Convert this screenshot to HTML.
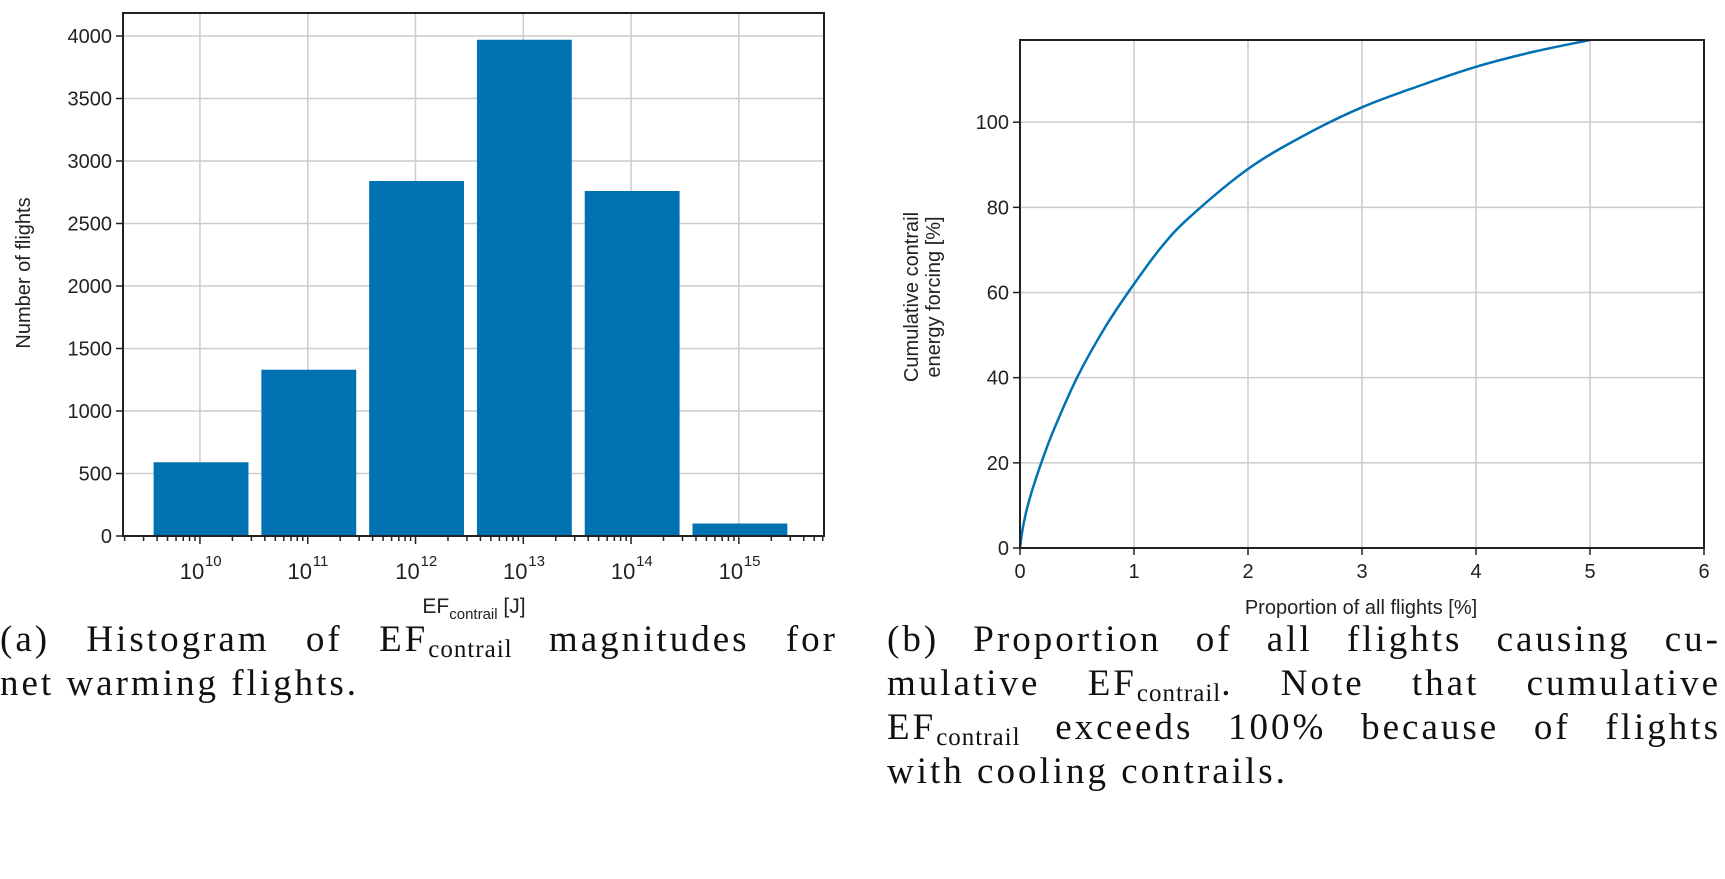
<!DOCTYPE html>
<html><head><meta charset="utf-8"><style>
body{margin:0;background:#fff;width:1725px;height:879px;overflow:hidden;position:relative}
svg{position:absolute;left:0;top:0}
.cap{position:absolute;font-family:"Liberation Serif",serif;font-size:37px;letter-spacing:3px;color:#111}
.ln{height:44px;line-height:44px;white-space:nowrap;text-align:justify;text-align-last:justify}
.ln.last{text-align-last:left}
.cap sub{font-size:25px;letter-spacing:1px;line-height:0;vertical-align:-6px}
</style></head><body>
<svg id="chart" width="1725" height="879" font-family="Liberation Sans, sans-serif"></svg>
<div class="cap" style="left:0;top:618px;width:838px">
<div class="ln">(a) Histogram of EF<sub>contrail</sub> magnitudes for</div>
<div class="ln last">net warming flights.</div></div>
<div class="cap" style="left:887px;top:618px;width:834px">
<div class="ln">(b) Proportion of all flights causing cu-</div>
<div class="ln">mulative EF<sub>contrail</sub>. Note that cumulative</div>
<div class="ln">EF<sub>contrail</sub> exceeds 100% because of flights</div>
<div class="ln last">with cooling contrails.</div></div>
<script>
const histExponents=[10,11,12,13,14,15];
const histCounts=[590,1330,2840,3970,2760,100];
const histYTicks=[0,500,1000,1500,2000,2500,3000,3500,4000];
const cumX=[0,0.02,0.05,0.1,0.2,0.3,0.5,0.75,1,1.25,1.5,2,2.5,3,3.5,4,4.5,5];
const cumY=[0,4,8,13,21,28,40,52,62,71,78,89,97,103.5,108.5,113,116.5,119.3];
const cumXTicks=[0,1,2,3,4,5,6];
const cumYTicks=[0,20,40,60,80,100];
const svg=document.getElementById('chart');const NS='http://www.w3.org/2000/svg';
function mk(t,a,p){const e=document.createElementNS(NS,t);for(const k in a)e.setAttribute(k,a[k]);(p||svg).appendChild(e);return e;}
// left chart
const L={x0:123,x1:824,y0:536,y1:13,lmin:9.286,lmax:15.79,ymax:4184};
const lx=v=>L.x0+(v-L.lmin)/(L.lmax-L.lmin)*(L.x1-L.x0);
const ly=v=>L.y0-v/L.ymax*(L.y0-L.y1);
const gA=mk('g',{});
histYTicks.forEach(t=>{const y=ly(t);
 mk('line',{x1:L.x0,x2:L.x1,y1:y,y2:y,stroke:'#ccc','stroke-width':1.5},gA);
 mk('line',{x1:L.x0-7,x2:L.x0,y1:y,y2:y,stroke:'#222','stroke-width':1.5},gA);
 const tx=mk('text',{x:L.x0-11,y:y+7,'text-anchor':'end','font-size':20,fill:'#222'},gA);tx.textContent=t;
 });
histExponents.forEach(e=>{const x=lx(e);mk('line',{x1:x,x2:x,y1:L.y1,y2:L.y0,stroke:'#ccc','stroke-width':1.5},gA);});
histExponents.forEach((e,i)=>{const a=lx(e-0.43),b=lx(e+0.45);
 const r=mk('rect',{x:a,y:ly(histCounts[i]),width:b-a,height:L.y0-ly(histCounts[i]),fill:'#0072b2'},gA);
 });
for(let d=9;d<=15;d++){for(let m=1;m<10;m++){const v=d+Math.log10(m);if(v<L.lmin||v>L.lmax)continue;const x=lx(v);
 mk('line',{x1:x,x2:x,y1:L.y0,y2:L.y0+(m==1?8:5),stroke:'#222','stroke-width':1.5},gA);}}
histExponents.forEach(e=>{const x=lx(e);const t=mk('text',{x:x-8,y:L.y0+43,'text-anchor':'middle','font-size':22,fill:'#222'},gA);t.textContent='10';
 const s=mk('text',{x:x+5,y:L.y0+30,'font-size':15,fill:'#222'},gA);s.textContent=e;
 });
mk('rect',{x:L.x0,y:L.y1,width:L.x1-L.x0,height:L.y0-L.y1,fill:'none',stroke:'#222','stroke-width':2},gA);
let t=mk('text',{x:0,y:0,'text-anchor':'middle','font-size':20,fill:'#222',transform:'translate(30,273) rotate(-90)'},gA);t.textContent='Number of flights';

t=mk('text',{x:474,y:613,'text-anchor':'middle','font-size':21,fill:'#222'},gA);t.innerHTML='EF<tspan font-size="15" dy="6">contrail</tspan><tspan dy="-6"> [J]</tspan>';

// right chart
const R={x0:1020,x1:1704,y0:548,y1:40,xmax:6,ymax:119.3};
const rx=v=>R.x0+v/R.xmax*(R.x1-R.x0);const ry=v=>R.y0-v/R.ymax*(R.y0-R.y1);
const gB=mk('g',{});
cumYTicks.forEach(v=>{const y=ry(v);mk('line',{x1:R.x0,x2:R.x1,y1:y,y2:y,stroke:'#ccc','stroke-width':1.5},gB);
 mk('line',{x1:R.x0-7,x2:R.x0,y1:y,y2:y,stroke:'#222','stroke-width':1.5},gB);
 const q=mk('text',{x:R.x0-11,y:y+7,'text-anchor':'end','font-size':20,fill:'#222'},gB);q.textContent=v;
 });
cumXTicks.forEach(v=>{const x=rx(v);mk('line',{x1:x,x2:x,y1:R.y1,y2:R.y0,stroke:'#ccc','stroke-width':1.5},gB);
 mk('line',{x1:x,x2:x,y1:R.y0,y2:R.y0+7,stroke:'#222','stroke-width':1.5},gB);
 const q=mk('text',{x:x,y:R.y0+30,'text-anchor':'middle','font-size':20,fill:'#222'},gB);q.textContent=v;
 });
const P=cumX.map((v,i)=>[rx(v),ry(cumY[i])]);
let d='M'+P[0][0]+','+P[0][1];
for(let i=0;i<P.length-1;i++){const p0=P[Math.max(i-1,0)],p1=P[i],p2=P[i+1],p3=P[Math.min(i+2,P.length-1)];
 const c1=[p1[0]+(p2[0]-p0[0])/6,p1[1]+(p2[1]-p0[1])/6],c2=[p2[0]-(p3[0]-p1[0])/6,p2[1]-(p3[1]-p1[1])/6];
 d+='C'+c1.map(n=>n.toFixed(1))+' '+c2.map(n=>n.toFixed(1))+' '+p2.map(n=>n.toFixed(1));}
const p=mk('path',{d:d,fill:'none',stroke:'#0072b2','stroke-width':2.5},gB);

mk('rect',{x:R.x0,y:R.y1,width:R.x1-R.x0,height:R.y0-R.y1,fill:'none',stroke:'#222','stroke-width':2},gB);
t=mk('text',{'text-anchor':'middle','font-size':20,fill:'#222',transform:'translate(918,297) rotate(-90)'},gB);t.textContent='Cumulative contrail';

t=mk('text',{'text-anchor':'middle','font-size':20,fill:'#222',transform:'translate(940,297) rotate(-90)'},gB);t.textContent='energy forcing [%]';

t=mk('text',{x:1361,y:614,'text-anchor':'middle','font-size':20,fill:'#222'},gB);t.textContent='Proportion of all flights [%]';

</script>
</body></html>
